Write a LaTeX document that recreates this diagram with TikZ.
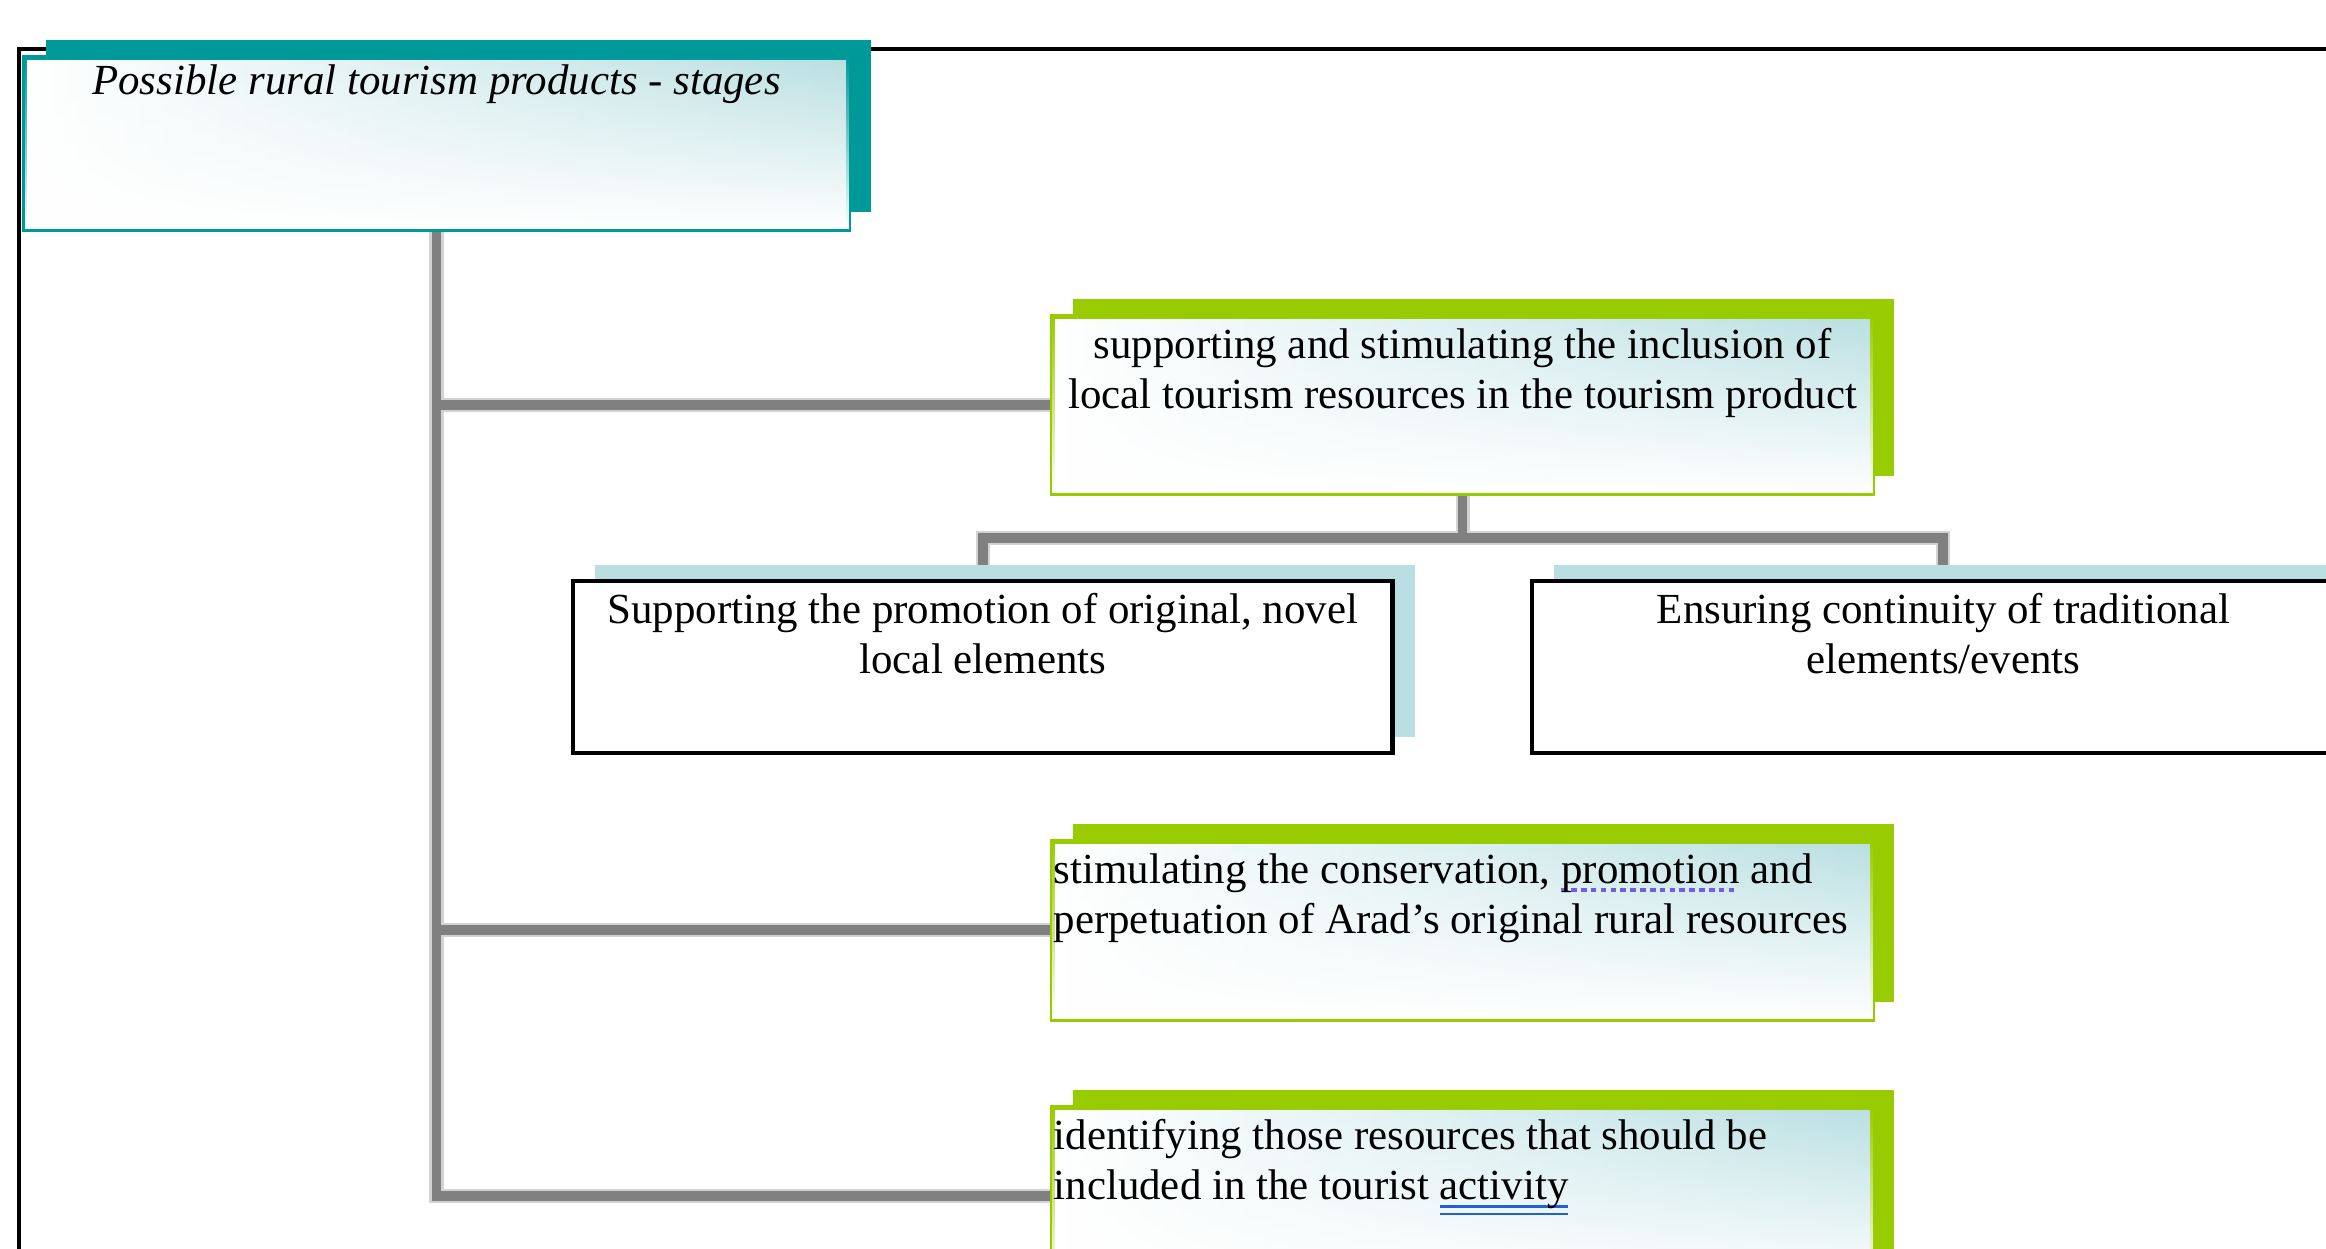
\documentclass[tikz,border=0pt]{standalone}
\usepackage{fontspec}
\setmainfont{Liberation Serif}
\usetikzlibrary{positioning,shadows,fadings,backgrounds}

\definecolor{tealline}{HTML}{009999}
\definecolor{limeline}{HTML}{99CC00}
\definecolor{paleblue}{HTML}{B9DFE2}
\definecolor{spellmark}{HTML}{7060E0}
\definecolor{linkmark}{HTML}{2060E0}

\newcommand\boxfont{\fontsize{12.2}{14.2}\selectfont}
\newlength\markwd
\newcommand\spellword[1]{\settowidth\markwd{#1}%
    \rlap{\textcolor{spellmark}{\leaders\hbox to 2.8pt{\rule[-2.4pt]{1.6pt}{1pt}\hss}\hskip\markwd}}#1}
\newcommand\linkword[1]{\settowidth\markwd{#1}%
    \rlap{\textcolor{linkmark}{\rule[-2.2pt]{\markwd}{0.8pt}}}%
    \rlap{\textcolor{linkmark}{\rule[-4.4pt]{\markwd}{0.8pt}}}#1}

\tikzset{
    panel/.style={minimum width=8.2cm, minimum height=1.77cm, inner sep=0pt,
        anchor=north west, line width=1.3pt, left color=white, right color=paleblue},
    titlebox/.style={panel, draw=tealline, minimum width=8.24cm, minimum height=1.72cm,
        general shadow={fill=tealline, shadow xshift=0.22cm, shadow yshift=0.17cm}},
    stagebox/.style={panel, draw=limeline,
        general shadow={fill=limeline, shadow xshift=0.21cm, shadow yshift=0.17cm}},
    subbox/.style={minimum width=8.19cm, minimum height=1.72cm, inner sep=0pt,
        anchor=north west, draw=black, line width=1.2pt, fill=white,
        general shadow={fill=paleblue, shadow xshift=0.22cm, shadow yshift=0.16cm}},
    boxtext/.style={inner sep=0pt, font=\boxfont, align=center},
    stem/.style={draw=gray, line width=2.8pt, preaction={draw=gray!35, line width=4pt}}
}

\begin{document}
\begin{tikzpicture}[x=0.01cm, y=-0.01cm]
    \useasboundingbox (0,0) rectangle (2326,1249);
    \clip (0,0) rectangle (2326,1249);

    % boxes
    \node[titlebox] (title) at (22,55) {};
    \node[stagebox] (incl) at (1050,314) {};
    \node[subbox] (promo) at (571,579) {};
    \node[subbox, minimum width=8.22cm] (contin) at (1530,579) {};
    \node[stagebox, minimum height=1.78cm] (conserv) at (1050,839) {};
    \node[stagebox, minimum height=1.78cm] (ident) at (1050,1105) {};

    % lower part of the shaded boxes fades to white
    \foreach \n in {title,incl,conserv,ident}
        \fill[white, path fading=north]
        ([shift={(0.7pt,0.7pt)}]\n.south west) rectangle ([shift={(-0.7pt,-0.7pt)}]\n.north east);

    % texts
    \node[boxtext, font={\boxfont\itshape}, below=0.09cm of title.north] (title-t)
        {Possible rural tourism products - stages};
    \node[boxtext, below=0.14cm of incl.north] (incl-t)
        {supporting and stimulating the inclusion of\\local tourism resources in the tourism product};
    \node[boxtext, below=0.14cm of promo.north] (promo-t)
        {Supporting the promotion of original, novel\\local elements};
    \node[boxtext, below=0.14cm of contin.north] (contin-t)
        {Ensuring continuity of traditional\\elements/events};
    \node[boxtext, align=left, below right=0.14cm and 0.03cm of conserv.north west] (conserv-t)
        {stimulating the conservation, \spellword{promotion} and\\perpetuation of Arad's original rural resources};
    \node[boxtext, align=left, below right=0.14cm and 0.03cm of ident.north west] (ident-t)
        {identifying those resources that should be\\included in the tourist \linkword{activity}};

    % connectors
    \coordinate[below=0.42cm of incl.south] (fork);
    \begin{pgfonlayer}{background}
        \draw[line width=1pt] (19,1249) -- (19,49) -- (2326,49);
        \draw[stem] (title.south) |- (incl.west)
            (title.south) |- (conserv.west)
            (title.south) |- (ident.west);
        \draw[stem] (incl.south) -- (fork) -| (promo.north)
            (fork) -| (contin.north);
    \end{pgfonlayer}
\end{tikzpicture}
\end{document}
